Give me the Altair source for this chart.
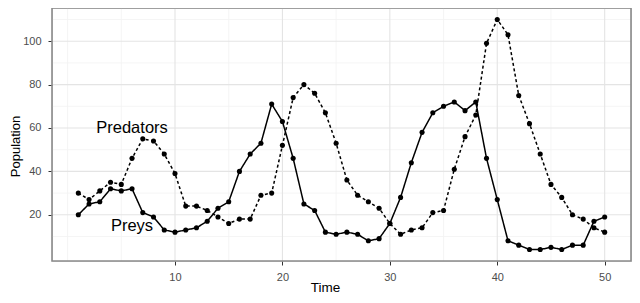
import altair as alt
import pandas as pd

time = [1, 2, 3, 4, 5, 6, 7, 8, 9, 10,
        11, 12, 13, 14, 15, 16, 17, 18, 19, 20,
        21, 22, 23, 24, 25, 26, 27, 28, 29, 30,
        31, 32, 33, 34, 35, 36, 37, 38, 39, 40,
        41, 42, 43, 44, 45, 46, 47, 48, 49, 50]
preys = [20, 25, 26, 32, 31, 32, 21, 19, 13, 12,
         13, 14, 17, 23, 26, 40, 48, 53, 71, 63,
         46, 25, 22, 12, 11, 12, 11, 8, 9, 16,
         28, 44, 58, 67, 70, 72, 68, 72, 46, 27,
         8, 6, 4, 4, 5, 4, 6, 6, 17, 19]
predators = [30, 27, 31, 35, 34, 46, 55, 54, 48, 39,
             24, 24, 22, 19, 16, 18, 18, 29, 30, 52,
             74, 80, 76, 67, 53, 36, 29, 26, 23, 16,
             11, 13, 14, 21, 22, 41, 56, 66, 99, 110,
             103, 75, 62, 48, 34, 28, 20, 18, 14, 12]
series_names = ["Preys", "Predators"]
label_text = ["Predators", "Preys"]
label_x = [6, 6]
label_y = [60, 15]
x_major = [10, 20, 30, 40, 50]
x_minor = [0, 5, 15, 25, 35, 45]
y_major = [20, 40, 60, 80, 100]
y_minor = [10, 30, 50, 70, 90, 110]

W, H = 579, 253

df = pd.concat([
    pd.DataFrame({"Time": time, "Population": preys, "series": series_names[0]}),
    pd.DataFrame({"Time": time, "Population": predators, "series": series_names[1]}),
])
labels = pd.DataFrame({"text": label_text, "Time": label_x, "Population": label_y})

FONT = "Liberation Sans"
xs = alt.Scale(domain=[-1.45, 52.45], nice=False, zero=False)
ys = alt.Scale(domain=[-1.3, 115.3], nice=False, zero=False)

x_axis = alt.Axis(values=x_major, grid=False, domain=False, tickSize=4, tickColor="#333333",
                  tickWidth=1, labelFontSize=11, labelColor="#4d4d4d", labelFont=FONT,
                  labelPadding=6, title="Time", titleFont=FONT, titleFontSize=13.5,
                  titleFontWeight="normal", titleColor="#000000", titleX=273, titleY=30,
                  titleBaseline="alphabetic")
y_axis = alt.Axis(values=y_major, grid=False, domain=False, tickSize=4, tickColor="#333333",
                  tickWidth=1, labelFontSize=11, labelColor="#4d4d4d", labelFont=FONT,
                  labelPadding=7, title="Population", titleFont=FONT, titleFontSize=13,
                  titleFontWeight="normal", titleColor="#000000", titleX=-36.5, titleY=138,
                  titleAngle=270, titleBaseline="middle")

minor_v = alt.Chart(pd.DataFrame({"v": x_minor})).mark_rule(color="#f3f3f3", strokeWidth=0.8).encode(
    x=alt.X("v:Q", scale=xs, axis=x_axis))
minor_h = alt.Chart(pd.DataFrame({"v": y_minor})).mark_rule(color="#f3f3f3", strokeWidth=0.8).encode(
    y=alt.Y("v:Q", scale=ys, axis=y_axis))
major_v = alt.Chart(pd.DataFrame({"v": x_major})).mark_rule(color="#e4e4e4", strokeWidth=1.1).encode(
    x=alt.X("v:Q", scale=xs, axis=x_axis))
major_h = alt.Chart(pd.DataFrame({"v": y_major})).mark_rule(color="#e4e4e4", strokeWidth=1.1).encode(
    y=alt.Y("v:Q", scale=ys, axis=y_axis))

frame = alt.Chart(pd.DataFrame({"v": [0]})).mark_rect(
    filled=False, stroke="#8a8a8a", strokeWidth=1.6, fillOpacity=0).encode(
    x=alt.value(0), x2=alt.value(W), y=alt.value(0), y2=alt.value(H))

base = alt.Chart(df).encode(
    x=alt.X("Time:Q", scale=xs, axis=x_axis),
    y=alt.Y("Population:Q", scale=ys, axis=y_axis),
)
lines = base.mark_line(color="black", strokeWidth=1.5).encode(
    strokeDash=alt.StrokeDash("series:N", scale=alt.Scale(domain=series_names, range=[[1, 0], [3, 2.5]]),
                              legend=None),
    detail="series:N",
)
points = base.mark_circle(color="black", size=26, opacity=1)

texts = alt.Chart(labels).mark_text(font=FONT, fontSize=16.5, color="#000000", baseline="middle",
                                    align="center").encode(
    x=alt.X("Time:Q", scale=xs, axis=x_axis), y=alt.Y("Population:Q", scale=ys, axis=y_axis),
    text="text:N")

chart = alt.layer(minor_v, minor_h, major_v, major_h, frame, lines, points, texts).properties(
    width=W, height=H,
    autosize=alt.AutoSizeParams(type="none"),
    padding={"left": 44, "top": 0, "right": 1, "bottom": 34},
).configure_view(stroke=None).configure(background="white")

chart.save("out.html", embed_options={"renderer": "svg", "actions": False})
